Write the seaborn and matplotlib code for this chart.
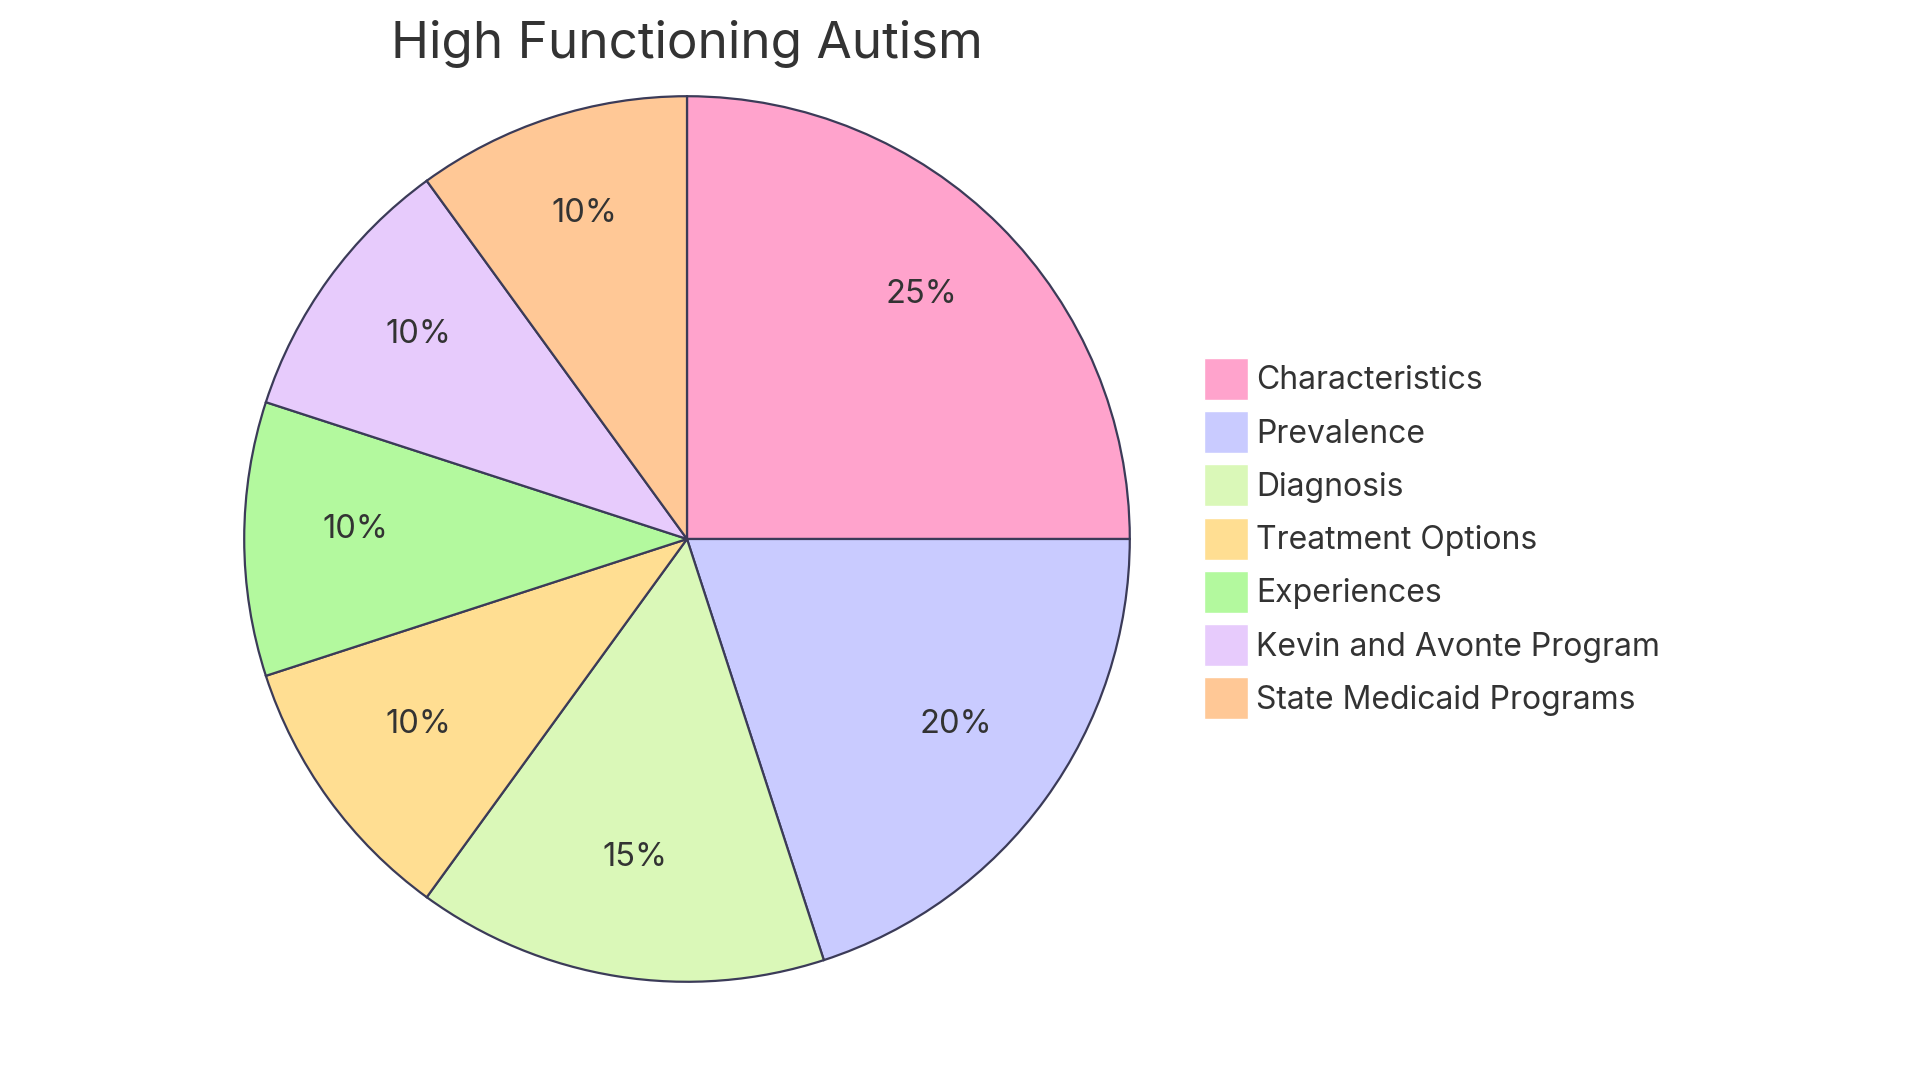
import matplotlib
matplotlib.use("Agg")
import matplotlib.pyplot as plt
import seaborn as sns

sns.set_theme(style="white")
plt.rcParams['font.family'] = ['Inter', 'DejaVu Sans']

categories = ["Characteristics", "Prevalence", "Diagnosis", "Treatment Options",
              "Experiences", "Kevin and Avonte Program", "State Medicaid Programs"]
values = [25, 20, 15, 10, 10, 10, 10]
colors = ["#FFA3CC", "#C9CBFF", "#DAF8B8", "#FFDE92", "#B3F99E", "#E7CBFC", "#FFC896"]
title = "High Functioning Autism"

fig = plt.figure(figsize=(19.2, 10.8), dpi=100)
fig.patch.set_facecolor("white")
ax = fig.add_axes([242/1920, 96/1080, 890/1920, 890/1080])
wedges, texts, autotexts = ax.pie(
    values, colors=colors, startangle=90, counterclock=False,
    autopct=lambda p: f"{p:.0f}%", pctdistance=0.75, radius=1,
    wedgeprops=dict(edgecolor="#3b3b58", linewidth=1.6),
    textprops=dict(color="#333333", fontsize=23.5))
for t in autotexts:
    x, y = t.get_position()
    t.set_position((x, y + 0.022))
ax.set_xlim(-1.005, 1.005)
ax.set_ylim(-1.005, 1.005)
ax.set_aspect("equal")
ax.axis("off")

fig.text(687/1920, 1 - 44/1080, title, ha="center", va="center",
         fontsize=36.8, color="#333333")

leg = fig.legend(wedges, categories, loc="upper left",
                 bbox_to_anchor=(1191/1920, 1 - 345/1080), frameon=False,
                 fontsize=23, handlelength=1.38, handleheight=1.65,
                 labelspacing=0.35, handletextpad=0.25, borderaxespad=0)
for t in leg.get_texts():
    t.set_color("#333333")
for h in leg.legend_handles:
    h.set_edgecolor("white")
    h.set_linewidth(1)

fig.savefig("out.png", dpi=100, facecolor="white")
